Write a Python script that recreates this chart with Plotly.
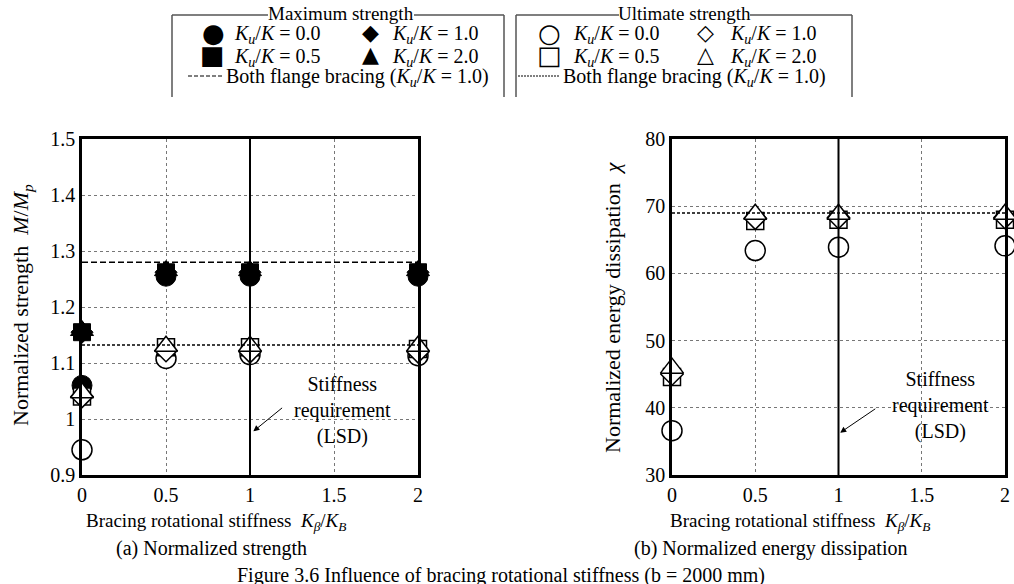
import plotly.graph_objects as go

# ---------------- data ----------------
stiffness = [0, 0.5, 1, 2]

# (a) normalized strength M/Mp - maximum strength (filled markers)
max_ku00 = [1.06, 1.255, 1.255, 1.255]
max_ku05 = [1.155, 1.262, 1.262, 1.262]
max_ku10 = [1.155, 1.262, 1.262, 1.262]
max_ku20 = [1.158, 1.265, 1.265, 1.265]
# ultimate strength (open markers)
ult_ku00 = [0.945, 1.108, 1.115, 1.113]
ult_ku05 = [1.04, 1.128, 1.128, 1.125]
ult_ku10 = [1.04, 1.122, 1.12, 1.12]
ult_ku20 = [1.047, 1.13, 1.13, 1.13]
both_max_strength = 1.28
both_ult_strength = 1.132

# (b) normalized energy dissipation chi (open markers)
en_ku00 = [36.6, 63.4, 63.9, 64.1]
en_ku05 = [44.6, 67.8, 68.0, 68.0]
en_ku10 = [45.0, 68.2, 68.3, 68.3]
en_ku20 = [45.9, 68.8, 68.8, 68.8]
both_energy = 69.0

stiffness_requirement = 1.0

x_ticks = [0, 0.5, 1, 1.5, 2]
x_ticktext = ["0", "0.5", "1", "1.5", "2"]
y1_ticks = [0.9, 1.0, 1.1, 1.2, 1.3, 1.4, 1.5]
y1_ticktext = ["0.9", "1", "1.1", "1.2", "1.3", "1.4", "1.5"]
y2_ticks = [30, 40, 50, 60, 70, 80]
y2_ticktext = ["30", "40", "50", "60", "70", "80"]

ku_labels = ["0.0", "0.5", "1.0", "2.0"]

# ---------------- layout helpers ----------------
W, H = 1014, 584
FONT = "Liberation Serif"
def px(x):
    return x / W
def py(y):
    return 1 - y / H

fig = go.Figure()

symbols = ["circle", "square", "diamond", "triangle-up"]
sizes = [20, 17, 17, 20]

# filled markers: maximum strength
for vals, sym, sz in zip([max_ku00, max_ku05, max_ku10, max_ku20], symbols, sizes):
    fig.add_trace(go.Scatter(x=stiffness, y=vals, mode="markers", xaxis="x", yaxis="y",
                             marker=dict(symbol=sym, size=sz, color="black",
                                         line=dict(color="black", width=1)),
                             showlegend=False, cliponaxis=False))
# open markers: ultimate strength
for vals, sym, sz in zip([ult_ku00, ult_ku05, ult_ku10, ult_ku20], symbols, sizes):
    fig.add_trace(go.Scatter(x=stiffness, y=vals, mode="markers", xaxis="x", yaxis="y",
                             marker=dict(symbol=sym, size=sz, color="white",
                                         line=dict(color="black", width=1.5)),
                             showlegend=False, cliponaxis=False))
# energy dissipation
for vals, sym, sz in zip([en_ku00, en_ku05, en_ku10, en_ku20], symbols, sizes):
    fig.add_trace(go.Scatter(x=stiffness, y=vals, mode="markers", xaxis="x2", yaxis="y2",
                             marker=dict(symbol=sym, size=sz, color="white",
                                         line=dict(color="black", width=1.5)),
                             showlegend=False, cliponaxis=False))

axis_common = dict(showline=True, mirror=True, linewidth=2.5, linecolor="black",
                   showgrid=True, gridcolor="#777", griddash="dot", gridwidth=1,
                   zeroline=False, ticks="", automargin=False,
                   tickfont=dict(family=FONT, size=20, color="black"))

fig.update_layout(
    width=W, height=H, margin=dict(l=0, r=0, t=0, b=0, pad=0, autoexpand=False),
    paper_bgcolor="white", plot_bgcolor="white",
    xaxis=dict(domain=[px(82), px(418)], range=[0, 2], tickvals=x_ticks, ticktext=x_ticktext,
               anchor="y", **axis_common),
    yaxis=dict(domain=[py(475), py(139)], range=[0.9, 1.5], tickvals=y1_ticks, ticktext=y1_ticktext,
               anchor="x", **axis_common),
    xaxis2=dict(domain=[px(672), px(1005)], range=[0, 2], tickvals=x_ticks, ticktext=x_ticktext,
                anchor="y2", **axis_common),
    yaxis2=dict(domain=[py(475), py(139)], range=[30, 80], tickvals=y2_ticks, ticktext=y2_ticktext,
                anchor="x2", **axis_common),
)

shapes = []
# reference lines in plots
shapes.append(dict(type="line", xref="x", yref="y domain", x0=stiffness_requirement, x1=stiffness_requirement,
                   y0=0, y1=1, line=dict(color="black", width=2)))
shapes.append(dict(type="line", xref="x2", yref="y2 domain", x0=stiffness_requirement, x1=stiffness_requirement,
                   y0=0, y1=1, line=dict(color="black", width=2)))
shapes.append(dict(type="line", xref="x domain", yref="y", x0=0, x1=1, y0=both_max_strength, y1=both_max_strength,
                   line=dict(color="black", width=1.5, dash="6px,3px")))
shapes.append(dict(type="line", xref="x domain", yref="y", x0=0, x1=1, y0=both_ult_strength, y1=both_ult_strength,
                   line=dict(color="black", width=1.5, dash="3px,2px")))
shapes.append(dict(type="line", xref="x2 domain", yref="y2", x0=0, x1=1, y0=both_energy, y1=both_energy,
                   line=dict(color="black", width=1.5, dash="3px,2px")))

# legend boxes
def legend_box(x0, x1, y0, y1, title_left, title_right):
    col = "#555"
    shapes.extend([
        dict(type="line", xref="paper", yref="paper", x0=px(x0), x1=px(title_left), y0=py(y0), y1=py(y0), line=dict(color=col, width=1.5)),
        dict(type="line", xref="paper", yref="paper", x0=px(title_right), x1=px(x1), y0=py(y0), y1=py(y0), line=dict(color=col, width=1.5)),
        dict(type="line", xref="paper", yref="paper", x0=px(x0), x1=px(x0), y0=py(y0), y1=py(y1), line=dict(color=col, width=1.5)),
        dict(type="line", xref="paper", yref="paper", x0=px(x1), x1=px(x1), y0=py(y0), y1=py(y1), line=dict(color=col, width=1.5)),
    ])

legend_box(172, 504, 15, 97, 268, 414)
legend_box(516, 852, 15, 97, 619, 750)
shapes.append(dict(type="line", xref="paper", yref="paper", x0=px(188), x1=px(223), y0=py(76), y1=py(76),
                   line=dict(color="black", width=1.2, dash="4px,2px")))
shapes.append(dict(type="line", xref="paper", yref="paper", x0=px(518), x1=px(560), y0=py(76), y1=py(76),
                   line=dict(color="black", width=1, dash="2px,1px")))

annotations = []
def ptext(x, y, text, size=20, xanchor="center", yanchor="middle", angle=0, family=FONT):
    annotations.append(dict(x=px(x), y=py(y), xref="paper", yref="paper", text=text, showarrow=False,
                            xanchor=xanchor, yanchor=yanchor, textangle=angle,
                            font=dict(family=family, size=size, color="black")))

def ku(v):
    return "<i>K</i><sub><i>u</i></sub>/<i>K</i> = " + v

ptext(341, 13, "Maximum strength", size=19)
ptext(684, 13, "Ultimate strength", size=19)
# left legend entries
ptext(213, 33, "●", size=26, family="DejaVu Sans")
ptext(232, 35, ku(ku_labels[0]), xanchor="left")
ptext(370, 33, "◆", size=22, family="DejaVu Sans")
ptext(390, 35, ku(ku_labels[2]), xanchor="left")
ptext(212, 55, "■", size=26, family="DejaVu Sans")
ptext(232, 57, ku(ku_labels[1]), xanchor="left")
ptext(370, 55, "▲", size=22, family="DejaVu Sans")
ptext(390, 57, ku(ku_labels[3]), xanchor="left")
ptext(224, 78, "Both flange bracing (" + ku("1.0") + ")", xanchor="left")
# right legend entries
ptext(549, 33, "○", size=26, family="DejaVu Sans")
ptext(571, 35, ku(ku_labels[0]), xanchor="left")
ptext(705, 33, "◇", size=22, family="DejaVu Sans")
ptext(728, 35, ku(ku_labels[2]), xanchor="left")
ptext(549, 55, "□", size=26, family="DejaVu Sans")
ptext(571, 57, ku(ku_labels[1]), xanchor="left")
ptext(705, 55, "△", size=22, family="DejaVu Sans")
ptext(728, 57, ku(ku_labels[3]), xanchor="left")
ptext(561, 78, "Both flange bracing (" + ku("1.0") + ")", xanchor="left")

# axis titles
ptext(22, 305, "Normalized strength&nbsp;&nbsp;<i>M</i>/<i>M</i><sub><i>p</i></sub>", size=22, angle=-90)
ptext(612, 307, "Normalized energy dissipation&nbsp;&nbsp;<i>χ</i>", size=22, angle=-90)
xt = "Bracing rotational stiffness&nbsp;&nbsp;<i>K</i><sub><i>β</i></sub>/<i>K</i><sub><i>B</i></sub>"
ptext(216, 522, xt, size=19)
ptext(800, 522, xt, size=19)
ptext(211, 548, "(a) Normalized strength")
ptext(770, 548, "(b) Normalized energy dissipation")
ptext(501, 575, "Figure 3.6 Influence of bracing rotational stiffness (b = 2000 mm)")

# stiffness requirement notes with arrows
annotations.append(dict(x=1.55, y=1.015, xref="x", yref="y", text="Stiffness<br>requirement<br>(LSD)",
                        showarrow=False, font=dict(family=FONT, size=20, color="black"), align="center"))
annotations.append(dict(x=1.02, y=0.978, xref="x", yref="y", ax=1.2, ay=1.022, axref="x", ayref="y",
                        text="", showarrow=True, arrowhead=2, arrowsize=1.2, arrowwidth=1, arrowcolor="black"))
annotations.append(dict(x=1.615, y=40.4, xref="x2", yref="y2", text="Stiffness<br>requirement<br>(LSD)",
                        showarrow=False, font=dict(family=FONT, size=20, color="black"), align="center"))
annotations.append(dict(x=1.01, y=36.3, xref="x2", yref="y2", ax=1.23, ay=40.0, axref="x2", ayref="y2",
                        text="", showarrow=True, arrowhead=2, arrowsize=1.2, arrowwidth=1, arrowcolor="black"))

fig.update_layout(shapes=shapes, annotations=annotations)
fig.write_html("out.html")
